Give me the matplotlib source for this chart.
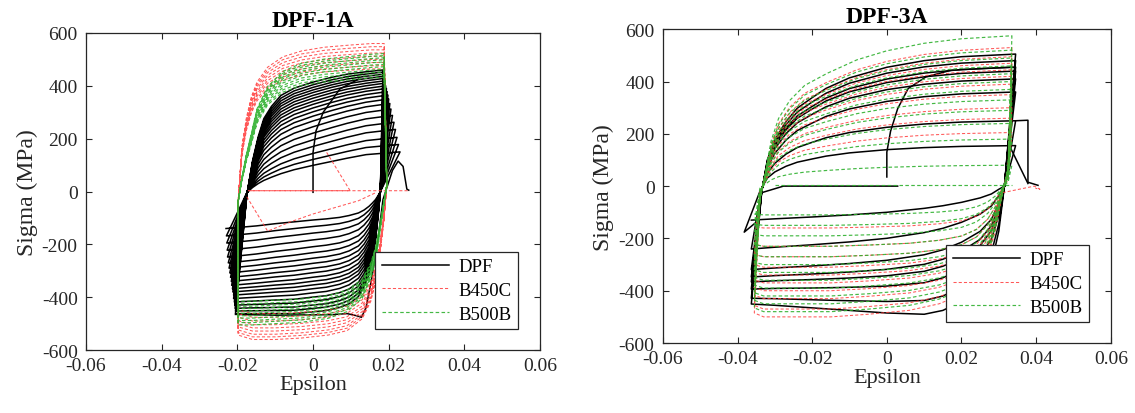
import numpy as np
import matplotlib
matplotlib.use('Agg')
import matplotlib.pyplot as plt

plt.rcParams['font.family'] = ['Liberation Serif', 'DejaVu Serif']

# ---------------- DPF-1A (left) ----------------
# peak stress of each cycle (MPa), tension end / compression end
dpf1_top = [460, 452, 444, 436, 428, 419, 410, 400, 390, 378, 365, 350, 333, 312, 288, 262, 235, 205, 178, 150]
dpf1_bot = [462, 452, 442, 430, 418, 405, 392, 380, 368, 355, 340, 325, 308, 290, 270, 248, 222, 195, 168, 140]
# strain reached at each cycle end
dpf1_eps_max = [0.0185, 0.0185, 0.0186, 0.0187, 0.0188, 0.019, 0.019, 0.0192, 0.0194, 0.0196,
                0.0198, 0.02, 0.0203, 0.0206, 0.021, 0.0214, 0.0218, 0.0222, 0.0226, 0.023]
dpf1_eps_min = [-0.0205, -0.0205, -0.0206, -0.0207, -0.0208, -0.021, -0.021, -0.0212, -0.0213, -0.0215,
                -0.0216, -0.0218, -0.022, -0.0222, -0.0224, -0.0226, -0.0227, -0.0228, -0.0229, -0.023]
b450c1_top = [560, 548, 536, 524, 512, 500, 488, 476, 464]
b450c1_bot = [560, 550, 540, 528, 516, 504, 490, 476, 462]
b500b1_top = [522, 514, 506, 498, 490, 481, 472, 462, 452, 442, 432]
b500b1_bot = [505, 496, 488, 479, 470, 461, 452, 443, 434, 425, 415]

# loop shape: strain points and stress as share of the cycle peak
l_up_eps = [-0.0175, -0.016, -0.0145, -0.013, -0.011, -0.0085, -0.005, 0.0, 0.005, 0.009, 0.014, 0.0185]
l_up_hi = [-0.03, 0.25, 0.45, 0.6, 0.7, 0.79, 0.85, 0.9, 0.94, 0.965, 0.985, 1.0]
l_up_lo = [-0.03, 0.1, 0.2, 0.28, 0.36, 0.45, 0.55, 0.66, 0.76, 0.84, 0.93, 1.0]
l_dn_eps = [0.0178, 0.0172, 0.0165, 0.0157, 0.0148, 0.0135, 0.012, 0.0095, 0.007, 0.0035, 0.0,
            -0.005, -0.01, -0.015, -0.0205]
l_dn_hi = [0.0, 0.2, 0.4, 0.55, 0.68, 0.78, 0.86, 0.92, 0.95, 0.975, 0.985, 1.0, 1.0, 1.0, 1.0]
l_dn_lo = [0.0, 0.11, 0.22, 0.31, 0.4, 0.5, 0.58, 0.65, 0.7, 0.74, 0.77, 0.82, 0.87, 0.93, 1.0]

l_rg_up_eps = [-0.0198, -0.0188, -0.0176, -0.0163, -0.0148, -0.012, -0.008, -0.003, 0.003, 0.01, 0.0155, 0.0188]
l_red_up = [-0.08, 0.3, 0.5, 0.64, 0.74, 0.84, 0.91, 0.95, 0.975, 0.99, 1.0, 1.0]
l_grn_up = [-0.08, 0.1, 0.27, 0.42, 0.6, 0.76, 0.87, 0.93, 0.96, 0.98, 0.995, 1.0]
l_rg_dn_eps = [0.0195, 0.0187, 0.0177, 0.0166, 0.0153, 0.013, 0.009, 0.004, -0.003, -0.01, -0.016, -0.0198]
l_red_dn = [-0.05, 0.2, 0.42, 0.6, 0.74, 0.86, 0.94, 0.97, 0.99, 1.0, 1.0, 0.97]
l_grn_dn = [-0.05, 0.1, 0.3, 0.5, 0.65, 0.8, 0.9, 0.95, 0.98, 0.99, 1.0, 1.0]

# single paths (first loading, last cycle, failure)
dpf1_first_eps = [0.0, 0.0, 0.0008, 0.0027, 0.0071, 0.012]
dpf1_first_sig = [-3, 148, 230, 300, 388, 425]
dpf1_last_eps = [-0.0205, -0.01, 0.005, 0.009, 0.0115, 0.0128, 0.014, 0.0155, 0.017, 0.0185, 0.021, 0.0225, 0.0238, 0.0248, 0.0253]
dpf1_last_sig = [-465, -468, -466, -462, -470, -476, -440, -330, -200, -30, 80, 115, 95, 9, 5]
b450c1_extra_eps = [0.0036, 0.0098, -0.017, 0.025]
b450c1_extra_sig = [148, 3, 3, 3]
b450c1_rev_eps = [-0.0175, -0.012, -0.006, 0.0, 0.006, 0.012, 0.0165]
b450c1_rev_sig = [-20, -150, -115, -85, -60, -35, -5]

# ---------------- DPF-3A (right) ----------------
dpf3_top = [505, 480, 455, 440, 410, 360, 250, 155]
dpf3_bot = [490, 445, 385, 345, 320, 285, 200, 100]
b450c3_top = [530, 495, 470, 445, 420, 390, 350, 300, 260, 205]
b450c3_bot = [500, 470, 430, 400, 370, 340, 310, 270, 230, 160]
b500b3_top = [575, 520, 490, 460, 430, 400, 370, 330, 290, 240, 180, 80]
b500b3_bot = [480, 450, 420, 390, 360, 330, 300, 270, 230, 190, 150, 110]

r_up_eps = [-0.0335, -0.032, -0.03, -0.027, -0.024, -0.02, -0.0163, -0.01, 0.0, 0.01, 0.02, 0.0345]
r_up = [-0.04, 0.2, 0.35, 0.49, 0.59, 0.67, 0.74, 0.82, 0.9, 0.95, 0.98, 1.0]
r_dn_eps = [0.0315, 0.03, 0.028, 0.025, 0.02, 0.015, 0.01, 0.0, -0.01, -0.02, -0.03, -0.0363]
r_dn_hi = [0.0, 0.35, 0.61, 0.78, 0.9, 0.97, 1.0, 0.99, 0.97, 0.95, 0.93, 0.92]
r_dn_lo = [0.0, 0.12, 0.3, 0.45, 0.62, 0.75, 0.85, 1.0, 1.1, 1.18, 1.25, 1.3]

r_rg_up_eps = [-0.034, -0.0325, -0.031, -0.029, -0.026, -0.022, -0.016, -0.008, 0.0, 0.01, 0.02, 0.0335]
r_rg_up = [-0.1, 0.1, 0.3, 0.45, 0.57, 0.67, 0.75, 0.84, 0.9, 0.95, 0.98, 1.0]
r_rg_dn_eps = [0.0325, 0.031, 0.029, 0.027, 0.024, 0.02, 0.014, 0.006, -0.005, -0.015, -0.025, -0.033, -0.0355]
r_rg_dn = [-0.15, 0.05, 0.35, 0.55, 0.72, 0.83, 0.9, 0.95, 0.98, 1.0, 1.0, 1.0, 0.97]

dpf3_first_eps = [0.0, 0.0, 0.001, 0.0029, 0.0057, 0.0105, 0.0172, 0.026, 0.0335]
dpf3_first_sig = [35, 130, 210, 296, 373, 418, 443, 450, 455]
dpf3_zero_eps = [-0.0335, -0.0277, 0.0029]
dpf3_zero_sig = [-25, 0, 0]
dpf3_spike_eps = [-0.034, -0.0382, -0.0345]
dpf3_spike_sig = [-20, -176, -132]
dpf3_tail_eps = [0.0345, 0.0378, 0.0378, 0.0405]
dpf3_tail_sig = [250, 252, 15, 3]
dpf3_tail2_eps = [0.033, 0.0378]
dpf3_tail2_sig = [150, 10]
b450c3_tail_eps = [0.031, 0.0395, 0.041, 0.0398]
b450c3_tail_sig = [-25, 0, -12, -8]
b500b3_zero_eps = [-0.03, 0.0335]
b500b3_zero_sig = [5, 5]


def hysteresis(tops, bots, up_eps, up_hi, up_lo, dn_eps, dn_hi, dn_lo,
               eps_max=None, eps_min=None):
    tops = np.asarray(tops, float)
    bots = np.asarray(bots, float)
    up_hi, up_lo = np.asarray(up_hi), np.asarray(up_lo)
    dn_hi, dn_lo = np.asarray(dn_hi), np.asarray(dn_lo)
    xs, ys = [], []
    for i, (t, b) in enumerate(zip(tops, bots)):
        wu = (t - tops.min()) / (tops.max() - tops.min())
        wd = (b - bots.min()) / (bots.max() - bots.min())
        fu = wu * up_hi + (1 - wu) * up_lo
        fd = wd * dn_hi + (1 - wd) * dn_lo
        ue = list(up_eps)
        de = list(dn_eps)
        if eps_max is not None:
            ue[-1] = eps_max[i]
        if eps_min is not None:
            de[-1] = eps_min[i]
        xs += ue + de
        ys += list(fu * t) + list(-fd * b)
    return xs, ys


black = dict(color='k', lw=1.1)
red = dict(color='#ff3b3b', lw=0.75, dashes=(3, 2), alpha=0.85)
green = dict(color='#2fb12f', lw=0.85, dashes=(3, 2), alpha=0.9)

fig = plt.figure(figsize=(11.35, 4.14), dpi=100)
ax1 = fig.add_axes([0.0758, 0.152, 0.400, 0.766])
ax2 = fig.add_axes([0.584, 0.169, 0.3947, 0.758])

# left panel
x, y = hysteresis(dpf1_top, dpf1_bot, l_up_eps, l_up_hi, l_up_lo, l_dn_eps, l_dn_hi, l_dn_lo,
                  dpf1_eps_max, dpf1_eps_min)
ax1.plot(x, y, label='DPF', **black)
ax1.plot(dpf1_first_eps, dpf1_first_sig, **black)
ax1.plot(dpf1_last_eps, dpf1_last_sig, **black)
x, y = hysteresis(b450c1_top, b450c1_bot, l_rg_up_eps, l_red_up, l_red_up, l_rg_dn_eps, l_red_dn, l_red_dn)
ax1.plot(x, y, label='B450C', **red)
ax1.plot(b450c1_extra_eps, b450c1_extra_sig, **red)
ax1.plot(b450c1_rev_eps, b450c1_rev_sig, **red)
x, y = hysteresis(b500b1_top, b500b1_bot, l_rg_up_eps, l_grn_up, l_grn_up, l_rg_dn_eps, l_grn_dn, l_grn_dn)
ax1.plot(x, y, label='B500B', **green)

# right panel
x, y = hysteresis(dpf3_top, dpf3_bot, r_up_eps, r_up, r_up, r_dn_eps, r_dn_hi, r_dn_lo)
ax2.plot(x, y, label='DPF', **black)
for ex, sy in [(dpf3_first_eps, dpf3_first_sig), (dpf3_zero_eps, dpf3_zero_sig),
               (dpf3_spike_eps, dpf3_spike_sig), (dpf3_tail_eps, dpf3_tail_sig),
               (dpf3_tail2_eps, dpf3_tail2_sig)]:
    ax2.plot(ex, sy, **black)
x, y = hysteresis(b450c3_top, b450c3_bot, r_rg_up_eps, r_rg_up, r_rg_up, r_rg_dn_eps, r_rg_dn, r_rg_dn)
ax2.plot(x, y, label='B450C', **red)
ax2.plot(b450c3_tail_eps, b450c3_tail_sig, **red)
x, y = hysteresis(b500b3_top, b500b3_bot, r_rg_up_eps, r_rg_up, r_rg_up, r_rg_dn_eps, r_rg_dn, r_rg_dn)
ax2.plot(x, y, label='B500B', **green)
ax2.plot(b500b3_zero_eps, b500b3_zero_sig, **green)

xt = [-0.06, -0.04, -0.02, 0, 0.02, 0.04, 0.06]
xt_labels = ['-0.06', '-0.04', '-0.02', '0', '0.02', '0.04', '0.06']
yt = [-600, -400, -200, 0, 200, 400, 600]
for ax, title in [(ax1, 'DPF-1A'), (ax2, 'DPF-3A')]:
    ax.set_xlim(-0.06, 0.06)
    ax.set_ylim(-600, 600)
    ax.set_xticks(xt)
    ax.set_xticklabels(xt_labels)
    ax.set_yticks(yt)
    ax.set_yticklabels([str(v) for v in yt])
    ax.tick_params(direction='in', top=True, right=True, labelsize=14, length=4,
                   colors='#262626', width=0.8)
    ax.tick_params(axis='x', pad=5)
    ax.tick_params(axis='y', pad=6)
    for s in ax.spines.values():
        s.set_color('#262626')
        s.set_linewidth(0.9)
    ax.set_xlabel('Epsilon', fontsize=16, color='#262626', labelpad=1)
    ax.set_ylabel('Sigma (MPa)', fontsize=17, color='#262626', labelpad=3)
    ax.set_title(title, fontsize=17, fontweight='bold', pad=5)
    leg = ax.legend(loc='lower right', bbox_to_anchor=(0.952, 0.066), fontsize=13.5,
                    fancybox=False, framealpha=1, edgecolor='#262626',
                    handlelength=3.6, labelspacing=0.35, borderpad=0.35,
                    handletextpad=0.5, borderaxespad=0)
    leg.get_frame().set_linewidth(0.9)

fig.savefig('out.png', dpi=100)
